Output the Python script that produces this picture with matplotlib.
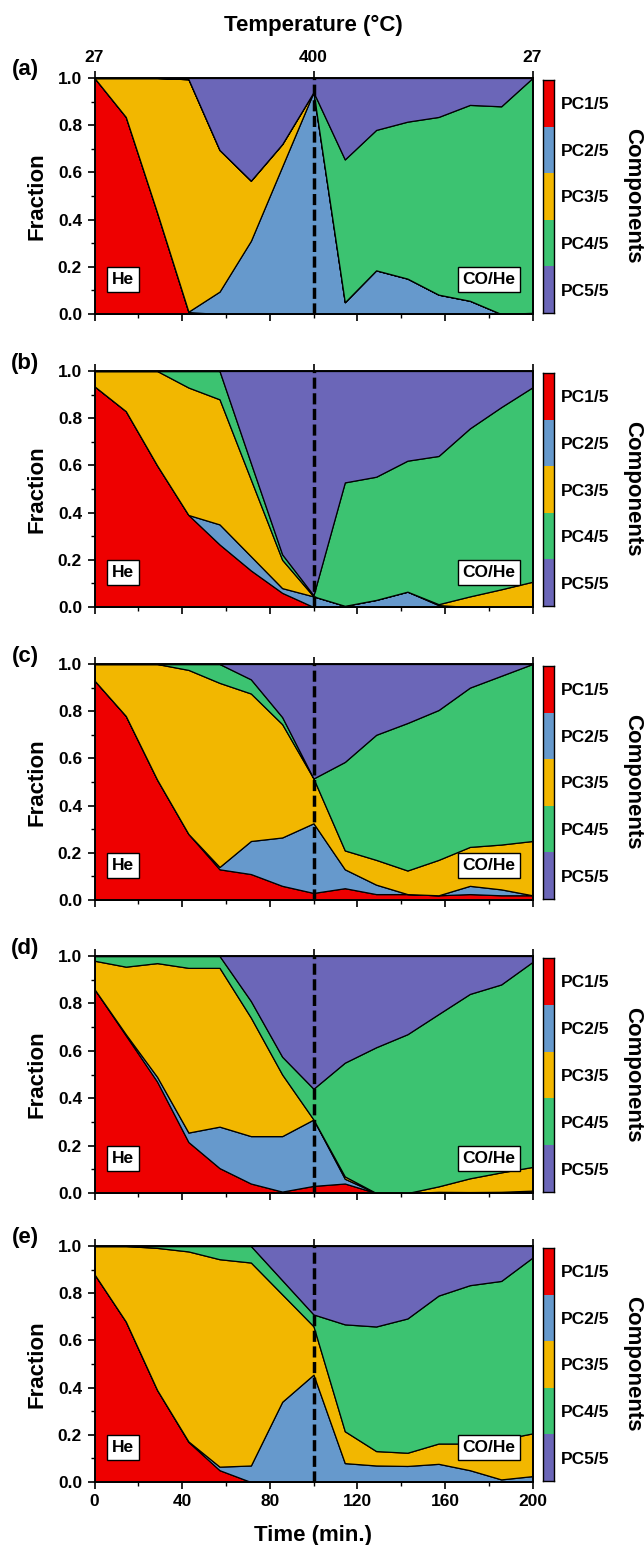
import numpy as np
import matplotlib
matplotlib.use('Agg')
import matplotlib.pyplot as plt
from matplotlib.colors import ListedColormap
from matplotlib.ticker import MultipleLocator

plt.rcParams['font.family'] = ['Liberation Sans', 'DejaVu Sans']
plt.rcParams['font.weight'] = 'bold'
plt.rcParams['axes.labelweight'] = 'bold'

# ---------------- data ----------------
time = [0, 14.3, 28.6, 42.9, 57.1, 71.4, 85.7, 100, 114.3, 128.6, 142.9, 157.1, 171.4, 185.7, 200]
components = ['PC1/5', 'PC2/5', 'PC3/5', 'PC4/5', 'PC5/5']
panel_labels = ['(a)', '(b)', '(c)', '(d)', '(e)']
temp_ticks = [0, 100, 200]
temp_labels = ['27', '400', '27']

a_pc1 = [1.0, 0.835, 0.43, 0.008, 0, 0, 0, 0, 0, 0, 0, 0, 0, 0, 0]
a_pc2 = [0, 0, 0, 0.002, 0.095, 0.31, 0.625, 0.94, 0.05, 0.185, 0.15, 0.082, 0.056, 0.0, 0.005]
a_pc3 = [0, 0.165, 0.57, 0.985, 0.60, 0.255, 0.095, 0, 0, 0, 0, 0, 0, 0, 0]
a_pc4 = [0, 0, 0, 0, 0, 0, 0, 0, 0.605, 0.595, 0.665, 0.753, 0.83, 0.88, 0.995]
a_pc5 = [0, 0, 0, 0.005, 0.305, 0.435, 0.28, 0.06, 0.345, 0.22, 0.185, 0.165, 0.114, 0.12, 0.0]

b_pc1 = [0.935, 0.83, 0.60, 0.39, 0.265, 0.155, 0.06, 0.0, 0, 0, 0, 0, 0, 0, 0]
b_pc2 = [0, 0, 0, 0, 0.085, 0.06, 0.02, 0.045, 0.005, 0.03, 0.065, 0.008, 0.0, 0.0, 0.003]
b_pc3 = [0.065, 0.17, 0.40, 0.54, 0.53, 0.325, 0.12, 0.0, 0, 0, 0, 0.004, 0.045, 0.075, 0.104]
b_pc4 = [0, 0, 0, 0.07, 0.12, 0.07, 0.023, 0.005, 0.523, 0.522, 0.555, 0.628, 0.712, 0.772, 0.824]
b_pc5 = [0, 0, 0, 0, 0, 0.39, 0.777, 0.95, 0.472, 0.448, 0.38, 0.36, 0.243, 0.153, 0.069]

c_pc1 = [0.93, 0.78, 0.51, 0.28, 0.13, 0.11, 0.06, 0.03, 0.05, 0.025, 0.025, 0.02, 0.025, 0.02, 0.02]
c_pc2 = [0, 0, 0, 0, 0.01, 0.14, 0.205, 0.295, 0.08, 0.04, 0.0, 0.0, 0.035, 0.025, 0.0]
c_pc3 = [0.07, 0.22, 0.49, 0.695, 0.78, 0.625, 0.48, 0.19, 0.08, 0.105, 0.10, 0.15, 0.165, 0.19, 0.23]
c_pc4 = [0, 0, 0, 0.025, 0.08, 0.06, 0.03, 0.0, 0.375, 0.53, 0.625, 0.635, 0.675, 0.715, 0.75]
c_pc5 = [0, 0, 0, 0, 0, 0.065, 0.225, 0.485, 0.415, 0.30, 0.25, 0.195, 0.10, 0.05, 0.0]

d_pc1 = [0.86, 0.665, 0.47, 0.215, 0.105, 0.04, 0.006, 0.03, 0.04, 0.0, 0.0, 0.005, 0.003, 0.003, 0.004]
d_pc2 = [0, 0.005, 0.02, 0.04, 0.175, 0.20, 0.234, 0.28, 0.02, 0, 0, 0, 0.001, 0.002, 0.006]
d_pc3 = [0.12, 0.285, 0.48, 0.695, 0.67, 0.50, 0.26, 0.0, 0.01, 0, 0, 0.023, 0.058, 0.082, 0.10]
d_pc4 = [0.02, 0.045, 0.03, 0.05, 0.05, 0.07, 0.075, 0.13, 0.48, 0.615, 0.67, 0.727, 0.778, 0.793, 0.865]
d_pc5 = [0, 0, 0, 0, 0, 0.19, 0.425, 0.56, 0.45, 0.385, 0.33, 0.245, 0.16, 0.12, 0.025]

e_pc1 = [0.88, 0.68, 0.39, 0.17, 0.05, 0, 0, 0, 0, 0, 0, 0, 0, 0, 0]
e_pc2 = [0, 0, 0, 0.002, 0.015, 0.07, 0.34, 0.455, 0.08, 0.07, 0.068, 0.077, 0.05, 0.011, 0.025]
e_pc3 = [0.12, 0.32, 0.602, 0.805, 0.879, 0.86, 0.455, 0.205, 0.135, 0.061, 0.056, 0.086, 0.113, 0.169, 0.181]
e_pc4 = [0, 0, 0.008, 0.023, 0.056, 0.07, 0.06, 0.05, 0.453, 0.528, 0.569, 0.627, 0.671, 0.672, 0.745]
e_pc5 = [0, 0, 0, 0, 0, 0, 0.145, 0.29, 0.332, 0.341, 0.307, 0.21, 0.166, 0.148, 0.049]

panels = [
    [a_pc1, a_pc2, a_pc3, a_pc4, a_pc5],
    [b_pc1, b_pc2, b_pc3, b_pc4, b_pc5],
    [c_pc1, c_pc2, c_pc3, c_pc4, c_pc5],
    [d_pc1, d_pc2, d_pc3, d_pc4, d_pc5],
    [e_pc1, e_pc2, e_pc3, e_pc4, e_pc5],
]

colors = ['#EE0000', '#6699CC', '#F2B700', '#3CC371', '#6B66B8']

# ---------------- layout ----------------
W, H = 644, 1545
fig = plt.figure(figsize=(W / 100, H / 100), dpi=100)

def fx(px):
    return px / W

def fy(py):
    return 1 - py / H

tops = [78, 371, 664, 956, 1246]
bots = [314, 607, 900, 1193, 1482]
xl, xr = 94.5, 532.5

for k, data in enumerate(panels):
    top, bot = tops[k], bots[k]
    ax = fig.add_axes([fx(xl), fy(bot), (xr - xl) / W, (bot - top) / H])
    ax.stackplot(time, *data, colors=colors, edgecolor='black', linewidth=0.9)
    ax.set_xlim(0, 200)
    ax.set_ylim(0, 1)
    ax.axvline(100, color='black', lw=2.5, ls=(0, (3.2, 1.3)), zorder=5)
    ax.xaxis.set_major_locator(MultipleLocator(40))
    ax.xaxis.set_minor_locator(MultipleLocator(20))
    ax.yaxis.set_major_locator(MultipleLocator(0.2))
    ax.yaxis.set_minor_locator(MultipleLocator(0.1))
    ax.yaxis.set_major_formatter(matplotlib.ticker.FormatStrFormatter('%.1f'))
    ax.tick_params(which='major', direction='out', length=5, width=1.2, labelsize=12.5, pad=4)
    ax.tick_params(which='minor', direction='out', length=3, width=1.0)
    ax.tick_params(labelbottom=(k == 4))
    for s in ax.spines.values():
        s.set_linewidth(1.2)

    axt = ax.twiny()
    axt.set_xlim(0, 200)
    axt.set_xticks(temp_ticks)
    axt.set_xticklabels(temp_labels if k == 0 else ['', '', ''])
    axt.tick_params(direction='out', length=5, width=1.2, labelsize=12.5, pad=4)
    for s in axt.spines.values():
        s.set_linewidth(1.2)

    # annotation boxes
    ax.text(13.2, 0.145, 'He', ha='center', va='center', fontsize=12.5, zorder=6,
            bbox=dict(boxstyle='square,pad=0.28', fc='white', ec='black', lw=1))
    ax.text(180.1, 0.145, 'CO/He', ha='center', va='center', fontsize=12.5, zorder=6,
            bbox=dict(boxstyle='square,pad=0.28', fc='white', ec='black', lw=1))

    # colorbar
    cax = fig.add_axes([fx(542.7), fy(bot - 1), 11.3 / W, (bot - top - 3) / H])
    cax.imshow(np.arange(5).reshape(5, 1), cmap=ListedColormap(colors), aspect='auto',
               extent=(0, 1, 5, 0), interpolation='nearest')
    cax.set_xticks([])
    cax.set_yticks(np.arange(5) + 0.5)
    cax.set_yticklabels(components)
    cax.yaxis.tick_right()
    cax.tick_params(axis='y', length=0, labelsize=12.5, pad=5)
    for s in cax.spines.values():
        s.set_linewidth(1.0)

    fig.text(fx(633), fy((top + bot) / 2), 'Components', rotation=270, ha='center',
             va='center', fontsize=16)
    fig.text(fx(37), fy((top + bot) / 2), 'Fraction', rotation=90, ha='center',
             va='center', fontsize=16)
    fig.text(fx(25.5), fy(top - 8), panel_labels[k], ha='center', va='center', fontsize=16)

fig.text(fx(313.5), fy(25), 'Temperature (°C)', ha='center', va='center', fontsize=16)
fig.text(fx(313.5), fy(1535), 'Time (min.)', ha='center', va='center', fontsize=16)

fig.savefig('out.png', dpi=100)
